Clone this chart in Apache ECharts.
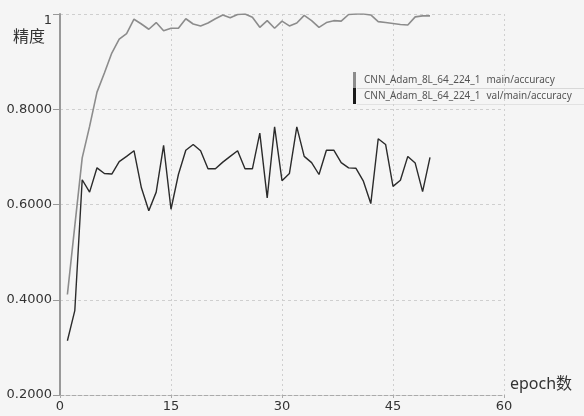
<!DOCTYPE html>
<html>
<head>
<meta charset="utf-8">
<script src="https://cdn.jsdelivr.net/npm/echarts@6/dist/echarts.min.js"></script>
<style>
html,body{margin:0;padding:0;background:#f5f5f5;}
#chart{width:584px;height:416px;}
</style>
</head>
<body>
<div id="chart"></div>
<script>
const epochs = [1,2,3,4,5,6,7,8,9,10,11,12,13,14,15,16,17,18,19,20,21,22,23,24,25,26,27,28,29,30,31,32,33,34,35,36,37,38,39,40,41,42,43,44,45,46,47,48,49,50];
const trainAcc = [0.411,0.555,0.698,0.764,0.836,0.876,0.918,0.947,0.959,0.989,0.979,0.968,0.982,0.965,0.970,0.970,0.990,0.979,0.975,0.981,0.990,0.998,0.992,0.999,1.0,0.993,0.972,0.986,0.970,0.985,0.975,0.981,0.997,0.986,0.972,0.982,0.986,0.985,0.999,1.0,1.0,0.998,0.984,0.982,0.980,0.978,0.977,0.994,0.996,0.996];
const valAcc = [0.314,0.377,0.652,0.626,0.677,0.665,0.664,0.690,0.701,0.713,0.635,0.587,0.626,0.724,0.590,0.663,0.714,0.726,0.713,0.675,0.675,0.689,0.701,0.713,0.675,0.675,0.750,0.614,0.763,0.650,0.665,0.763,0.701,0.688,0.663,0.714,0.714,0.688,0.677,0.676,0.649,0.602,0.738,0.726,0.638,0.651,0.701,0.687,0.627,0.699];
const seriesNames = ['main/accuracy','val/main/accuracy'];
const runName = 'CNN_Adam_8L_64_224_1';
const xTicks = [0,15,30,45,60];
const yTicks = [0.2,0.4,0.6,0.8,1];

const chart = echarts.init(document.getElementById('chart'), null, {renderer:'canvas'});
const font = "'DejaVu Sans', 'Noto Sans CJK SC', sans-serif";
const cjkFont = "'Noto Sans', 'Noto Sans CJK SC', sans-serif";

chart.setOption({
  backgroundColor: '#f5f5f5',
  animation: false,
  grid: {left: 60, right: 80, top: 14, bottom: 21, containLabel: false},
  legend: {
    show: true,
    orient: 'vertical',
    left: 353, top: 72,
    itemGap: 0, itemWidth: 3, itemHeight: 16,
    padding: 0,
    icon: 'rect',
    data: seriesNames,
    formatter: function(name){ return '{a|' + runName + '}{b|' + name + '}'; },
    textStyle: {
      fontFamily: cjkFont, fontSize: 10, color: '#555',
      rich: {
        a: {padding: [0,6,0,3], fontFamily: cjkFont, fontSize: 10, color: '#555'},
        b: {fontFamily: cjkFont, fontSize: 10, color: '#555'}
      }
    }
  },
  graphic: [
    {type:'line', shape:{x1:357, y1:88.5, x2:584, y2:88.5}, style:{stroke:'#d8d8d8', lineWidth:1}, silent:true},
    {type:'line', shape:{x1:357, y1:104.5, x2:584, y2:104.5}, style:{stroke:'#e2e2e2', lineWidth:1}, silent:true}
  ],
  xAxis: {
    type: 'value', min: 0, max: 60, interval: 15,
    name: 'epoch数', nameLocation: 'end', nameGap: 6, nameMoveOverlap: false,
    nameTextStyle: {fontFamily: cjkFont, fontSize: 16, color: '#333', align: 'left', verticalAlign: 'bottom', padding: [0,0,3,0]},
    axisLine: {show: true, lineStyle: {color: '#aaa', type: 'dashed', width: 1}},
    axisTick: {show: true, length: 3, lineStyle: {color: '#aaa'}},
    axisLabel: {margin: 5, fontFamily: font, fontSize: 13, color: '#333',
      formatter: function(v){ return xTicks.indexOf(v) >= 0 ? String(v) : ''; }},
    splitLine: {show: true, lineStyle: {color: '#cfcfcf', type: [2,3], width: 1}}
  },
  yAxis: {
    type: 'value', min: 0.2, max: 1, interval: 0.2,
    name: '精度', nameLocation: 'end', nameGap: -23, nameMoveOverlap: false,
    nameTextStyle: {fontFamily: cjkFont, fontSize: 16, color: '#333', align: 'right', verticalAlign: 'middle', padding: [0,15,0,0]},
    axisLine: {show: true, lineStyle: {color: '#999', width: 2}},
    axisTick: {show: true, length: 7, lineStyle: {color: '#999'}},
    axisLabel: {margin: 8, fontFamily: font, fontSize: 13, color: '#333',
      formatter: function(v){
        const t = yTicks.find(function(y){ return Math.abs(y - v) < 1e-9; });
        if (t === undefined) return '';
        return t === 1 ? '{top|1}' : t.toFixed(4);
      },
      rich: {top: {padding: [13,0,0,0], fontFamily: font, fontSize: 13, color: '#333'}}
    },
    splitLine: {show: true, lineStyle: {color: '#cfcfcf', type: [3,3], width: 1}}
  },
  series: [
    {
      name: seriesNames[0], type: 'line', showSymbol: false, symbol: 'none',
      data: epochs.map(function(e,i){ return [e, trainAcc[i]]; }),
      lineStyle: {color: '#8c8c8c', width: 1.6},
      itemStyle: {color: '#8c8c8c'},
      z: 2
    },
    {
      name: seriesNames[1], type: 'line', showSymbol: false, symbol: 'none',
      data: epochs.map(function(e,i){ return [e, valAcc[i]]; }),
      lineStyle: {color: '#2b2b2b', width: 1.4},
      itemStyle: {color: '#1a1a1a'},
      z: 3
    }
  ]
});
</script>
</body>
</html>
